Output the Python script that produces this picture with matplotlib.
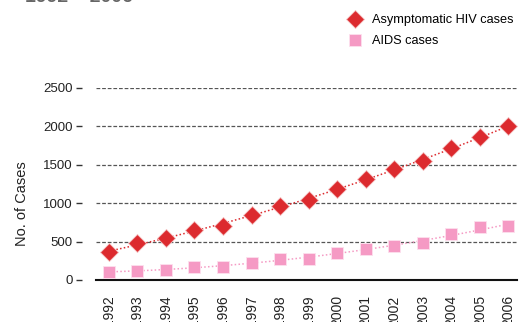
from matplotlib import pyplot as plt
import numpy as np

# Data
years = [1992, 1993, 1994, 1995, 1996, 1997, 1998, 1999,
         2000, 2001, 2002, 2003, 2004, 2005, 2006]
hiv_cases = [360, 478, 552, 648, 708, 843, 965, 1043,
             1187, 1313, 1443, 1552, 1717, 1861, 2000]
aids_cases = [100, 122, 135, 174, 172, 226, 278, 278,
              348, 400, 447, 486, 595, 687, 708]
y_ticks = [0, 500, 1000, 1500, 2000, 2500]

red = "#dc2a2e"
pink = "#f59ac4"

plt.rcParams["font.family"] = ["Liberation Sans", "DejaVu Sans"]

fig = plt.figure(figsize=(5.21, 3.22), dpi=100)
ax = fig.add_axes([96 / 521, 42 / 322, 421 / 521, 192 / 322])

x = np.array(years)

# Trend lines (dotted), fitted from the data
for vals, col in [(hiv_cases, red), (aids_cases, pink)]:
    coef = np.polyfit(x - 1992, vals, 2)
    xs = np.linspace(1992, 2006, 100)
    ax.plot(xs, np.polyval(coef, xs - 1992), linestyle=(0, (1, 1.5)),
            linewidth=1.1, color=col, zorder=2)

ax.plot(x, hiv_cases, linestyle="none", marker="D", markersize=9,
        color=red, markeredgecolor="#f5c4c4", markeredgewidth=0.6,
        label="Asymptomatic HIV cases", zorder=3)
ax.plot(x, aids_cases, linestyle="none", marker="s", markersize=8.5,
        color=pink, markeredgecolor="#fde0ee", markeredgewidth=0.6,
        label="AIDS cases", zorder=3)

ax.set_xlim(1991.55, 2006.3)
ax.set_ylim(0, 2500)
ax.set_yticks(y_ticks)
ax.set_xticks(years)
ax.set_xticklabels([str(y) for y in years], rotation=90, fontsize=10,
                   color="#222222")
ax.tick_params(axis="x", length=0, pad=11)
ax.tick_params(axis="y", direction="out", length=4, width=1, color="#333333",
               labelsize=9.5, labelcolor="#222222", pad=3)

for s in ["top", "right", "left"]:
    ax.spines[s].set_visible(False)
ax.spines["left"].set_position(("outward", 10))
ax.spines["bottom"].set_linewidth(1.5)
ax.spines["bottom"].set_color("#111111")

ax.grid(True, axis="y", linestyle=(0, (3, 1.5)), color="#555555",
        linewidth=0.9)
ax.set_axisbelow(True)

ax.set_ylabel("No. of Cases", fontsize=10.5, color="#222222")
ax.yaxis.set_label_coords(-0.16, 0.40)

leg = fig.legend(loc="upper left", bbox_to_anchor=(340 / 521, 1 - 9 / 322),
                 frameon=False, fontsize=9.2, handletextpad=0.5,
                 handlelength=1.6, labelspacing=0.7, borderaxespad=0)

# Title cut off by the top edge
fig.text(25 / 521, 1 + 3 / 322, "1992 \u2013 2006", fontsize=14,
         fontweight="bold", color="#666666", va="center", ha="left")

plt.savefig("out.png", dpi=100)
